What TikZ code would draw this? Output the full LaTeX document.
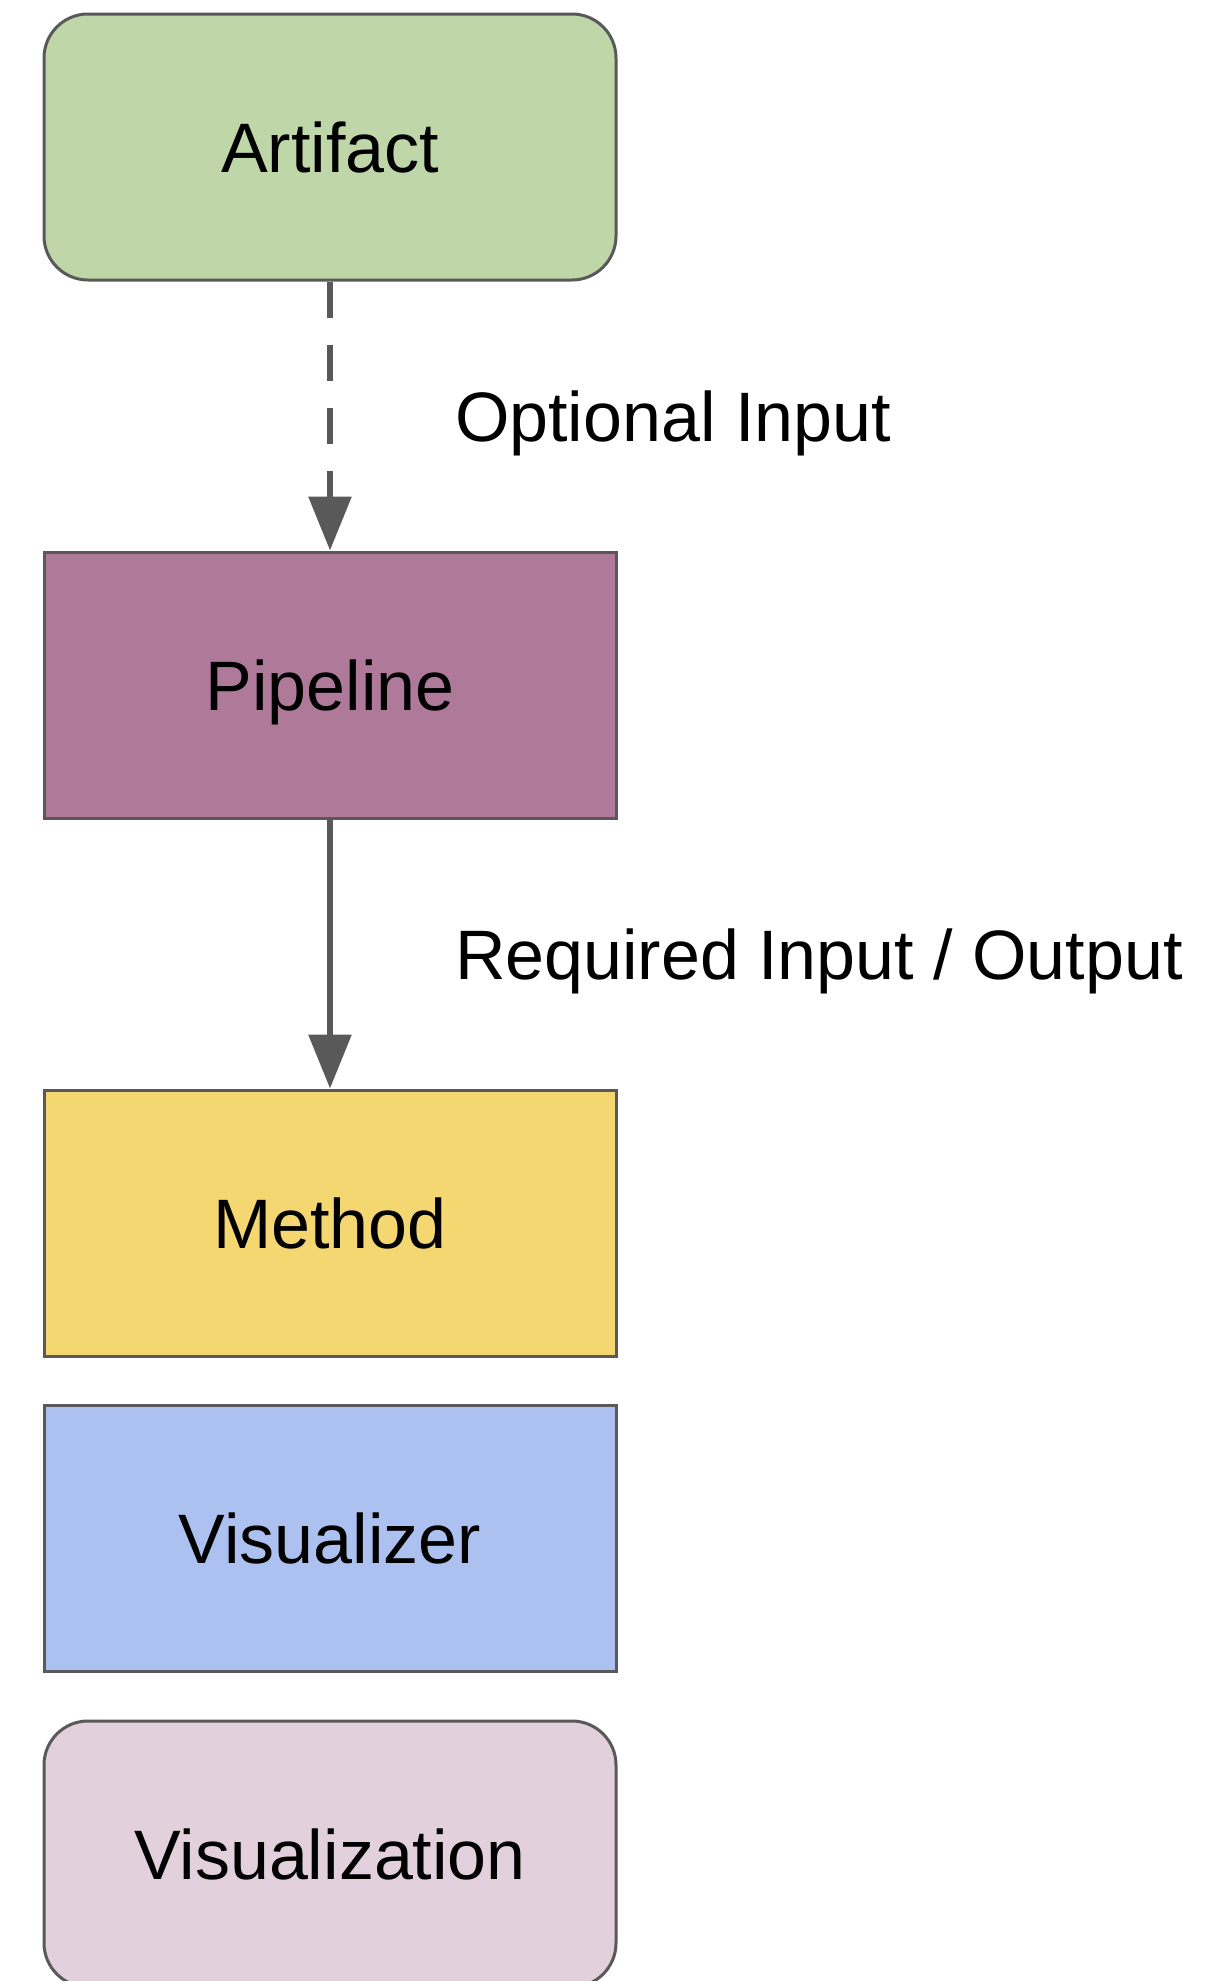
\documentclass[tikz,border=0pt]{standalone}
\usepackage{fontspec}
\setmainfont{Liberation Sans}
\usetikzlibrary{arrows.meta}
\definecolor{artifactgreen}{HTML}{BFD6A9}
\definecolor{pipelinemauve}{HTML}{AF7A9A}
\definecolor{methodyellow}{HTML}{F4D771}
\definecolor{visualizerblue}{HTML}{ADC1F1}
\definecolor{visualizationpink}{HTML}{E2D1DC}
\definecolor{edgegray}{HTML}{595959}
\begin{document}
\begin{tikzpicture}[x=0.5pt,y=-0.5pt,
    box/.style={draw=edgegray,line width=1.5pt,minimum width=286pt,minimum height=133pt,
      inner sep=0pt,text height=25pt,text depth=0pt,font=\fontsize{35}{42}\selectfont},
    rbox/.style={box,rounded corners=22pt},
    flow/.style={draw=edgegray,line width=3pt,-{Triangle[length=27pt,width=21pt]}},
    lbl/.style={anchor=west,inner sep=0pt,xshift=61pt,text height=25pt,text depth=0pt,
      font=\fontsize{35}{42}\selectfont}]
      \useasboundingbox (0,0) rectangle (1223,1981);
      \draw
        (330,147) node[rbox,fill=artifactgreen] (artifact){Artifact}
        (330,685) node[box,fill=pipelinemauve] (pipeline){Pipeline}
        (330,1223) node[box,fill=methodyellow] (method){Method}
        (330,1538) node[box,fill=visualizerblue] (visualizer){Visualizer}
        (330,1854) node[rbox,fill=visualizationpink] (visualization){Visualization};
      \begin{scope}[flow]
        \draw[dash pattern=on 18pt off 13.5pt] (artifact) to node[lbl]{Optional Input} (pipeline);
        \draw (pipeline) to node[lbl]{Required Input / Output} (method);
      \end{scope}
    \end{tikzpicture}
\end{document}
